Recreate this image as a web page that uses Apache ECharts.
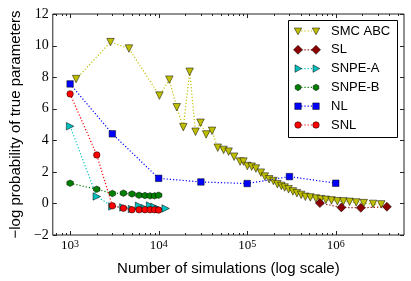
<!DOCTYPE html>
<html><head><meta charset="utf-8">
<script src="https://cdn.jsdelivr.net/npm/echarts@6/dist/echarts.min.js"></script>
<style>html,body{margin:0;padding:0;background:#fff}#c{width:411px;height:281px}</style>
</head><body><div id="c"></div>
<script>
// ---- data ----
const smcN = [1170,2860,4620,10200,13200,16000,19000,22400,26100,29700,34400,40100,46500,54200,61700,71200,83100,90700,100500,112300,125400,142600,158100,177000,197800,219200,243000,264500,293100,328200,363900,406400,453900,516300,597700,679800,773100,895400,1044000,1219000,1433000,1703000,2071000,2637000,3266000];
const smcV = [7.88,10.22,9.81,6.83,7.84,6.09,4.83,8.34,4.54,5.11,4.37,4.60,3.53,3.39,3.28,2.96,2.65,2.65,2.37,2.33,2.21,1.95,1.70,1.53,1.42,1.22,1.11,1.01,0.90,0.76,0.65,0.54,0.42,0.38,0.31,0.27,0.23,0.19,0.14,0.13,0.10,0.06,0.02,-0.03,-0.06];
const slN = [662000,1158000,1918000,3782000];
const slV = [0.02,-0.25,-0.28,-0.21];
const snpeaN = [1000,2000,3000,4000,5000,6000,7000,8000,9000,10000,12000];
const snpeaV = [4.89,0.44,-0.19,-0.25,-0.35,-0.15,-0.30,-0.13,-0.22,-0.35,-0.32];
const snpebN = [1000,2000,3000,4000,5000,6000,7000,8000,9000,10000];
const snpebV = [1.28,0.90,0.63,0.65,0.60,0.52,0.50,0.48,0.48,0.52];
const nlN = [1000,3000,10000,30000,100000,300000,1000000];
const nlV = [7.57,4.41,1.59,1.36,1.26,1.70,1.28];
const snlN = [1000,2000,3000,4000,5000,6000,7000,8000,9000,10000];
const snlV = [6.94,3.07,-0.15,-0.30,-0.40,-0.40,-0.40,-0.40,-0.40,-0.42];
const seriesNames = ['SMC ABC','SL','SNPE-A','SNPE-B','NL','SNL'];
const yTicks = [-2,0,2,4,6,8,10,12];
const X_MIN = 637.6, X_MAX = 5.9e6;

(function(){
const pair = (a,b) => a.map((v,i)=>[v,b[i]]);
const HEX = 'path://M0,-10L8.66,-5L8.66,5L0,10L-8.66,5L-8.66,-5Z';
const styles = [
  {color:'#bfbf00', symbol:'triangle', rot:180, size:7.5},
  {color:'#8b0000', symbol:'diamond', rot:0, size:9},
  {color:'#00bfbf', symbol:'triangle', rot:-90, size:7.5},
  {color:'#008000', symbol:HEX, rot:0, size:6.5},
  {color:'#0000ff', symbol:'rect', rot:0, size:6.5},
  {color:'#ff0000', symbol:'circle', rot:0, size:6.5}
];
const datas = [pair(smcN,smcV),pair(slN,slV),pair(snpeaN,snpeaV),pair(snpebN,snpebV),pair(nlN,nlV),pair(snlN,snlV)];

const chart = echarts.init(document.getElementById('c'), null, {renderer:'canvas'});
const sans = 'Liberation Sans';
const serif = 'Liberation Serif';
chart.setOption({
  animation:false,
  backgroundColor:'#fff',
  grid:{left:49, top:14, right:7, bottom:45, show:true, borderColor:'#222', borderWidth:1, backgroundColor:'transparent'},
  xAxis:{type:'log', logBase:10, min:X_MIN, max:X_MAX,
    name:'Number of simulations (log scale)', nameLocation:'middle', nameGap:26,
    nameTextStyle:{fontFamily:sans, fontSize:15, color:'#000'},
    axisLine:{show:false}, axisTick:{show:false}, splitLine:{show:false}, minorTick:{show:false},
    axisLabel:{showMinLabel:false, showMaxLabel:false, margin:4,
      formatter:(v)=>{const e=Math.log10(v); if(Math.abs(e-Math.round(e))>1e-6) return ''; return '{b|10}{s|'+Math.round(e)+'}';},
      rich:{b:{fontFamily:serif, fontSize:13, lineHeight:13, color:'#000', verticalAlign:'bottom'},
            s:{fontFamily:serif, fontSize:10, lineHeight:10, color:'#000', verticalAlign:'top', padding:[0,0,7,0]}}}
  },
  yAxis:{type:'value', min:-2, max:12, interval:2,
    name:'\u2212log probability of true parameters', nameLocation:'middle', nameGap:27, nameRotate:90,
    nameTextStyle:{fontFamily:sans, fontSize:15, color:'#000'},
    axisLine:{show:false}, axisTick:{show:false}, splitLine:{show:false},
    axisLabel:{fontFamily:serif, fontSize:14, color:'#000', margin:4, formatter:(v)=>String(v).replace('-','\u2212')}
  },
  series: datas.map((d,i)=>({
    name:seriesNames[i], type:'line', data:d, symbol:styles[i].symbol, symbolRotate:styles[i].rot, symbolSize:styles[i].size,
    showAllSymbol:true, z:2+i,
    lineStyle:{color:styles[i].color, width:1.2, type:[1.2,2]},
    itemStyle:{color:styles[i].color, borderColor:'#000', borderWidth:0.5}
  }))
});

// ---- ticks (positions from the axis scales) ----
const g = [];
const pA = chart.convertToPixel({gridIndex:0},[X_MIN,-2]);
const pB = chart.convertToPixel({gridIndex:0},[X_MAX,12]);
const gl=pA[0], gr=pB[0], gb=pA[1], gt=pB[1];
const tickLine=(x1,y1,x2,y2)=>({type:'line', shape:{x1,y1,x2,y2}, style:{stroke:'#222', lineWidth:1}, silent:true, z:10});
for (let e=2;e<=6;e++){
  for (let m=1;m<=9;m++){
    const v=m*Math.pow(10,e); if(v<=X_MIN||v>=X_MAX) continue;
    const x=Math.round(chart.convertToPixel({xAxisIndex:0}, v))+0.5;
    const L = m===1?4:2;
    g.push(tickLine(x,gb,x,gb-L)); g.push(tickLine(x,gt,x,gt+L));
  }
}
yTicks.forEach(t=>{
  const y=Math.round(chart.convertToPixel({yAxisIndex:0}, t))+0.5;
  g.push(tickLine(gl,y,gl+4,y)); g.push(tickLine(gr,y,gr-4,y));
});

// ---- legend ----
function marker(i,cx,cy){
  const s=styles[i], st={fill:s.color, stroke:'#000', lineWidth:0.5};
  const h=s.size/2;
  if(i===0) return {type:'polygon', shape:{points:[[cx-h,cy-h*0.8],[cx+h,cy-h*0.8],[cx,cy+h]]}, style:st};
  if(i===2) return {type:'polygon', shape:{points:[[cx-h*0.8,cy-h],[cx-h*0.8,cy+h],[cx+h,cy]]}, style:st};
  if(i===1) return {type:'polygon', shape:{points:[[cx,cy-h],[cx+h,cy],[cx,cy+h],[cx-h,cy]]}, style:st};
  if(i===3){const p=[];for(let k=0;k<6;k++){const a=Math.PI/2+k*Math.PI/3;p.push([cx+h*Math.cos(a),cy+h*Math.sin(a)]);}return {type:'polygon', shape:{points:p}, style:st};}
  if(i===4) return {type:'rect', shape:{x:cx-h,y:cy-h,width:2*h,height:2*h}, style:st};
  return {type:'circle', shape:{cx,cy,r:h}, style:st};
}
g.push({type:'rect', shape:{x:288.5,y:20.5,width:109,height:117}, style:{fill:'#fff', stroke:'#000', lineWidth:1}, z:20});
seriesNames.forEach((n,i)=>{
  const cy=31+i*18.8;
  g.push({type:'line', shape:{x1:298,y1:cy,x2:316,y2:cy}, style:{stroke:styles[i].color, lineWidth:1.2, lineDash:[1.2,2]}, z:21});
  const a=marker(i,298,cy); a.z=22; g.push(a);
  const b=marker(i,316,cy); b.z=22; g.push(b);
  g.push({type:'text', x:331, y:cy, style:{text:n, fontFamily:sans, fontSize:13, fill:'#000', verticalAlign:'middle'}, z:22});
});
chart.setOption({graphic:g});
})();
</script></body></html>
